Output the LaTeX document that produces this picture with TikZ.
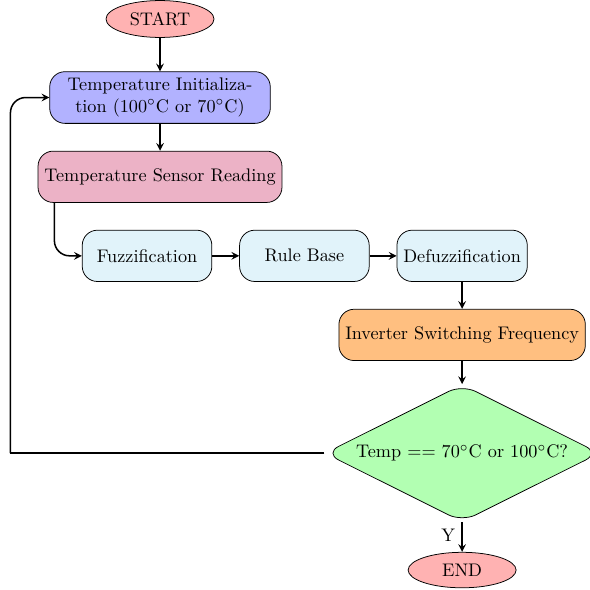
\documentclass[tikz,border=0pt]{standalone}
\usepackage{amsmath}
\usepackage{tikz}
\usetikzlibrary{calc,positioning,shapes.geometric,arrows}
\definecolor{fuzzyblue}{HTML}{E1F3FA}
\tikzset{
  startstop/.style={ellipse, draw, minimum width=2cm, minimum height=0.62cm, fill=red!30},
  process/.style={rectangle, draw, rounded corners=8pt, minimum height=0.95cm, align=center},
  fuzzy/.style={process, minimum width=2.4cm, fill=fuzzyblue},
  decision/.style={diamond, draw, aspect=2, rounded corners=8pt, fill=green!30, inner sep=2.6pt},
  arrow/.style={thick, ->, >=stealth},
}
\begin{document}
\begin{tikzpicture}[node distance=0.5cm, font=\fontsize{9.6}{11.5}\selectfont]
		\useasboundingbox (-2.963,0.352) rectangle (7.963,-10.574);
		% Main column
		\node[startstop] (start) {START} ;
		\node[process, fill=blue!30, text width=3.85cm, below=0.62cm of start] (init) {Temperature Initialization (100$^{\circ}$C or 70$^{\circ}$C)} ;
		\node[process, fill=purple!30, below=of init] (sensor) {Temperature Sensor Reading} ;
		% Fuzzy part
		\node[fuzzy, below=of sensor, xshift=-0.24cm] (fuzz) {Fuzzification} ;
		\node[fuzzy, right=of fuzz] (rules) {Rule Base} ;
		\node[fuzzy, right=of rules] (defuzz) {Defuzzification} ;
		\node[process, fill=orange!50, below=of defuzz] (inverter) {Inverter Switching Frequency} ;
		\node[decision, below=0.43cm of inverter] (check) {Temp == 70$^{\circ}$C or 100$^{\circ}$C?} ;
		\node[startstop, below=0.55cm of check] (stop) {END} ;
		% Arrows
		\draw[arrow] (start) -- (init) ;
		\draw[arrow] (init) -- (sensor) ;
		\draw[arrow, rounded corners=8pt] ($(sensor.south west)+(0.31,0)$) |- (fuzz.west) ;
		\draw[arrow] (fuzz) -- (rules) ;
		\draw[arrow] (rules) -- (defuzz) ;
		\draw[arrow] (defuzz) -- (inverter) ;
		\draw[arrow] (inverter) -- (check) ;
		\draw[arrow] (check) -- node[left, pos=0.45] {Y} (stop) ;
		% Loop back
		\coordinate (loop) at ($(init.west |- check.west)+(-0.72,0)$) ;
		\draw[thick] (check.west) -- (loop) ;
		\draw[arrow, rounded corners=8pt] (loop) |- (init.west) ;
\end{tikzpicture}
\end{document}
